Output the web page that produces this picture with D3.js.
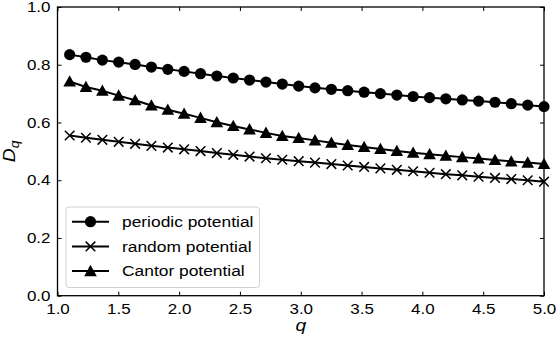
<!DOCTYPE html>
<html><head><meta charset="utf-8">
<script src="https://cdn.jsdelivr.net/npm/d3@7"></script>
<style>
html,body{margin:0;padding:0;background:#fff;}
svg text{font-family:"Liberation Sans",Arial,Helvetica,sans-serif;fill:#000;}
</style></head>
<body><svg id="chart" width="556" height="345"></svg>
<script>
const qValues = [1.100,1.234,1.369,1.503,1.638,1.772,1.907,2.041,2.176,2.310,2.445,2.579,2.714,2.848,2.983,3.117,3.252,3.386,3.521,3.655,3.790,3.924,4.059,4.193,4.328,4.462,4.597,4.731,4.866,5.000];
const periodic = [0.835,0.826,0.816,0.809,0.801,0.792,0.784,0.777,0.769,0.761,0.754,0.747,0.740,0.733,0.726,0.720,0.715,0.710,0.705,0.700,0.695,0.690,0.686,0.682,0.678,0.674,0.670,0.665,0.660,0.655];
const randomPot = [0.555,0.547,0.540,0.533,0.526,0.519,0.513,0.507,0.501,0.494,0.488,0.482,0.476,0.471,0.466,0.461,0.456,0.451,0.446,0.441,0.436,0.431,0.426,0.421,0.417,0.412,0.408,0.404,0.400,0.395];
const cantor = [0.742,0.723,0.710,0.693,0.677,0.659,0.644,0.630,0.616,0.601,0.588,0.576,0.564,0.553,0.546,0.538,0.530,0.522,0.515,0.508,0.501,0.495,0.490,0.485,0.480,0.475,0.470,0.465,0.461,0.456];
const seriesNames = ["periodic potential","random potential","Cantor potential"];
const seriesMarkers = ["circle","cross","triangle"];
const xTicks = [1.0,1.5,2.0,2.5,3.0,3.5,4.0,4.5,5.0];
const yTicks = [0.0,0.2,0.4,0.6,0.8,1.0];

const svg = d3.select("#chart");
const L = 57.5, R = 544, T = 7, B = 295.7;
const x = d3.scaleLinear().domain([1,5]).range([L,R]);
const y = d3.scaleLinear().domain([0,1]).range([B,T]);

const fs = "14.5px";
const sx = 1.17;
// axes
const gx = svg.append("g").attr("transform",`translate(0,${B})`)
  .call(d3.axisBottom(x).tickValues(xTicks).tickFormat(d3.format(".1f")).tickSizeInner(-4).tickSizeOuter(0).tickPadding(8));
const gxt = svg.append("g").attr("transform",`translate(0,${T})`)
  .call(d3.axisTop(x).tickValues(xTicks).tickFormat("").tickSizeInner(-4).tickSizeOuter(0));
const gy = svg.append("g").attr("transform",`translate(${L},0)`)
  .call(d3.axisLeft(y).tickValues(yTicks).tickFormat(d3.format(".1f")).tickSizeInner(-4).tickSizeOuter(0).tickPadding(7));
const gyr = svg.append("g").attr("transform",`translate(${R},0)`)
  .call(d3.axisRight(y).tickValues(yTicks).tickFormat("").tickSizeInner(-4).tickSizeOuter(0));
[gx,gxt,gy,gyr].forEach(g=>{
  g.select(".domain").remove();
  g.selectAll(".tick line").attr("stroke","#000").attr("stroke-width",1);
  g.selectAll("text").style("font-size",fs).attr("fill","#000").style("font-family",'"Liberation Sans",Arial,sans-serif');
});
gx.selectAll(".tick text").attr("transform",`scale(${sx},1)`);
gy.selectAll(".tick text").attr("x",-7/sx).attr("transform",`scale(${sx},1)`);
// frame
svg.append("rect").attr("x",L).attr("y",T).attr("width",R-L).attr("height",B-T)
  .attr("fill","none").attr("stroke","#000").attr("stroke-width",1.3);

// labels
svg.append("text").attr("transform",`translate(${x(3)},331) scale(${sx},1)`).attr("text-anchor","middle")
  .style("font-size","16.5px").style("font-style","italic").text("q");
const yl = svg.append("text").attr("transform",`translate(15,${y(0.5)}) rotate(-90) scale(${sx},1)`).attr("text-anchor","middle")
  .style("font-size","16.5px");
yl.append("tspan").style("font-style","italic").text("D");
yl.append("tspan").style("font-style","italic").style("font-size","12px").attr("dy",4).text("q");

const allSeries = [periodic, randomPot, cantor];
const line = d3.line().x((d,i)=>x(qValues[i])).y(d=>y(d));

function drawMarker(g, type, cx, cy){
  if(type==="circle"){
    g.append("circle").attr("cx",cx).attr("cy",cy).attr("r",5.6).attr("fill","#000");
  } else if(type==="cross"){
    const s=4.8;
    g.append("path").attr("d",`M${cx-s},${cy-s}L${cx+s},${cy+s}M${cx-s},${cy+s}L${cx+s},${cy-s}`)
      .attr("stroke","#000").attr("stroke-width",1.5).attr("fill","none");
  } else {
    const s=6.3;
    g.append("path").attr("d",`M${cx},${cy-s}L${cx+s},${cy+s*0.8}L${cx-s},${cy+s*0.8}Z`).attr("fill","#000");
  }
}

const plot = svg.append("g");
allSeries.forEach((vals,k)=>{
  plot.append("path").datum(vals).attr("d",line).attr("fill","none").attr("stroke","#000").attr("stroke-width",2);
  const mg = plot.append("g");
  vals.forEach((v,i)=>drawMarker(mg, seriesMarkers[k], x(qValues[i]), y(v)));
});

// legend
const lg = svg.append("g");
lg.append("rect").attr("x",66).attr("y",207).attr("width",193.5).attr("height",80.5).attr("rx",3)
  .attr("fill","#fff").attr("fill-opacity",0.8).attr("stroke","#d0d0d0").attr("stroke-width",1);
seriesNames.forEach((name,k)=>{
  const cy = 221.7 + k*24.7;
  lg.append("line").attr("x1",72).attr("x2",109).attr("y1",cy).attr("y2",cy).attr("stroke","#000").attr("stroke-width",2);
  drawMarker(lg, seriesMarkers[k], 90.5, cy);
  lg.append("text").attr("transform",`translate(122,${cy+5.3}) scale(1.2,1)`).style("font-size",fs).text(name);
});
</script></body></html>
